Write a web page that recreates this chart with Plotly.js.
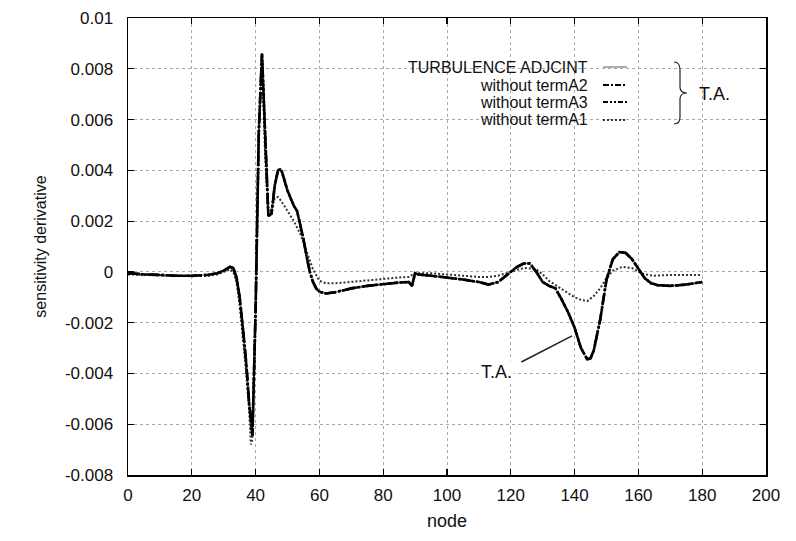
<!DOCTYPE html>
<html>
<head>
<meta charset="utf-8">
<script src="https://cdn.plot.ly/plotly-3.0.1.min.js"></script>
<style>html,body{margin:0;padding:0;background:#fff;}#chart{width:796px;height:541px;}</style>
</head>
<body>
<div id="chart"></div>
<script>
// ---- data (values in units of 1e-3) ----
var nodesMain = [0,5,10,15,20,25,28,30,32,33,34,35,36,37,38,39,40,41,42,43,44,45,46,47,48,50,52,53,54,55,56,57,58,59,60,62,65,70,75,80,85,88,89,90,91,95,100,105,110,113,116,118,120,122,124,126,128,130,132,134,136,138,140,142,144,145,146,148,150,152,154,156,158,160,162,164,166,170,175,180];
var valsMain = [-0.05,-0.1,-0.12,-0.15,-0.15,-0.12,-0.05,0.05,0.2,0.15,-0.2,-1.0,-2.2,-3.5,-5.2,-6.45,-1.5,5.5,8.6,5.0,2.2,2.3,3.4,4.0,4.05,3.2,2.6,2.4,1.9,1.3,0.6,0.0,-0.4,-0.65,-0.78,-0.85,-0.8,-0.65,-0.55,-0.48,-0.42,-0.4,-0.55,-0.05,-0.1,-0.15,-0.22,-0.3,-0.4,-0.5,-0.4,-0.2,0.0,0.2,0.33,0.33,0.0,-0.4,-0.55,-0.65,-1.1,-1.6,-2.2,-3.0,-3.45,-3.4,-3.1,-1.9,-0.3,0.5,0.78,0.75,0.5,0.1,-0.25,-0.45,-0.52,-0.55,-0.5,-0.4];
var nodesA1 = [0,5,10,15,20,25,28,30,32,33,34,35,36,37,38,38.5,39,40,41,42,43,44,45,46,47,48,50,52,54,56,58,60,62,65,70,75,80,85,88,90,95,100,105,110,113,116,120,123,125,128,130,132,135,138,140,142,144,146,148,150,152,155,158,160,162,165,170,175,180];
var valsA1 = [-0.1,-0.12,-0.15,-0.17,-0.17,-0.15,-0.1,0.0,0.1,0.0,-0.4,-1.3,-2.5,-3.9,-5.5,-6.8,-6.6,-1.5,5.5,8.6,4.5,2.2,2.5,2.9,2.95,2.8,2.4,2.0,1.5,0.8,0.1,-0.35,-0.45,-0.45,-0.4,-0.35,-0.28,-0.22,-0.2,-0.05,-0.05,-0.1,-0.15,-0.2,-0.2,-0.15,0.0,0.12,0.15,0.1,-0.1,-0.35,-0.6,-0.85,-1.0,-1.1,-1.15,-0.95,-0.65,-0.25,0.05,0.2,0.15,0.0,-0.1,-0.15,-0.12,-0.12,-0.12];
var seriesNames = ["TURBULENCE ADJCINT","without termA2","without termA3","without termA1"];
var xTicks = [0,20,40,60,80,100,120,140,160,180,200];
var yTicks = [-0.008,-0.006,-0.004,-0.002,0,0.002,0.004,0.006,0.008,0.01];
var yTickText = ["-0.008","-0.006","-0.004","-0.002","0","0.002","0.004","0.006","0.008","0.01"];

function scale(a){ return a.map(function(v){ return v*1e-3; }); }

var styles = [
  {color:'#777', width:1.2, dash:'solid'},
  {color:'#000', width:2.6, dash:'12px,2px,3px,2px'},
  {color:'#000', width:2.6, dash:'11px,2px,2px,2px,2px,2px'},
  {color:'#333', width:2, dash:'2px,2px'}
];
var data = [[nodesMain,valsMain],[nodesMain,valsMain],[nodesMain,valsMain],[nodesA1,valsA1]];
var traces = data.map(function(d,i){
  return {x:d[0], y:scale(d[1]), type:'scatter', mode:'lines', name:seriesNames[i], line:styles[i], showlegend:false};
});
// draw order: ADJCINT (thin, bottom), A1, A3, A2
traces = [traces[0], traces[3], traces[2], traces[1]];

var L=128, R=766, T=18, B=475;
function px(x){ return (x-L)/(R-L); }
function py(y){ return (B-y)/(B-T); }

var font = "Liberation Sans, Arial, Helvetica, sans-serif";
var legRows = [67,85,102,120];
var legDash = ['solid','6px,2px,2px,2px','5px,2px,2px,2px,2px,2px','2px,2px'];
var annotations = [], shapes = [];
// legend white box
shapes.push({type:'rect', xref:'paper', yref:'paper', x0:px(338), x1:px(634), y0:py(132), y1:py(56), fillcolor:'#fff', line:{width:0}, layer:'between'});
seriesNames.forEach(function(n,i){
  annotations.push({xref:'paper', yref:'paper', x:px(589), y:py(legRows[i]), xanchor:'right', yanchor:'middle', text:n, showarrow:false, borderpad:0, font:{family:font, size:16, color:'#111'}});
  shapes.push({type:'line', xref:'paper', yref:'paper', x0:px(603), x1:px(627), y0:py(legRows[i]), y1:py(legRows[i]), line:{color:styles[i].color, width:i===0?1.2:2, dash:legDash[i]}});
});
// brace
var bp = [[674,62],[680,62],[680,70],[680,87],[680,93],[687,93],[680,93],[680,99],[680,117],[680,124],[674,124]];
function P(i){ return px(bp[i][0])+','+py(bp[i][1]); }
shapes.push({type:'path', xref:'paper', yref:'paper', path:'M'+P(0)+' Q'+P(1)+' '+P(2)+' L'+P(3)+' Q'+P(4)+' '+P(5)+' Q'+P(6)+' '+P(7)+' L'+P(8)+' Q'+P(9)+' '+P(10), line:{color:'#222', width:1.2}});
annotations.push({xref:'paper', yref:'paper', x:px(697), y:py(94), xanchor:'left', yanchor:'middle', text:'T.A.', showarrow:false, font:{family:font, size:18, color:'#111'}});
// T.A. pointer
annotations.push({xref:'x', yref:'y', x:115.5, y:-0.00395, xanchor:'center', yanchor:'middle', text:'T.A.', showarrow:false, bgcolor:'#fff', font:{family:font, size:18, color:'#111'}});
shapes.push({type:'line', xref:'x', yref:'y', x0:123.3, y0:-0.00355, x1:139.2, y1:-0.00252, line:{color:'#222', width:1.5}});

var axisCommon = {
  showline:true, linecolor:'#000', linewidth:1.5, mirror:'ticks', ticks:'inside', ticklen:6, tickcolor:'#000', tickwidth:1.2,
  showgrid:true, gridcolor:'#aaa', griddash:'dot', gridwidth:1, zeroline:false,
  tickfont:{family:font, size:17, color:'#111'}
};
var layout = {
  width:796, height:541,
  margin:{l:L, r:796-R, t:T, b:541-B},
  paper_bgcolor:'#fff', plot_bgcolor:'#fff',
  showlegend:false,
  xaxis:Object.assign({}, axisCommon, {range:[0,200], tickvals:xTicks, ticktext:xTicks.map(String), ticklabelstandoff:4,
    title:{text:'node', font:{family:font, size:18, color:'#111'}, standoff:10}}),
  yaxis:Object.assign({}, axisCommon, {range:[-0.008,0.01], tickvals:yTicks, ticktext:yTickText, ticklabelstandoff:10,
    title:{text:'sensitivity derivative', font:{family:font, size:16, color:'#111'}, standoff:14}}),
  annotations:annotations, shapes:shapes
};
Plotly.newPlot('chart', traces, layout, {displayModeBar:false, staticPlot:true});
</script>
</body>
</html>
